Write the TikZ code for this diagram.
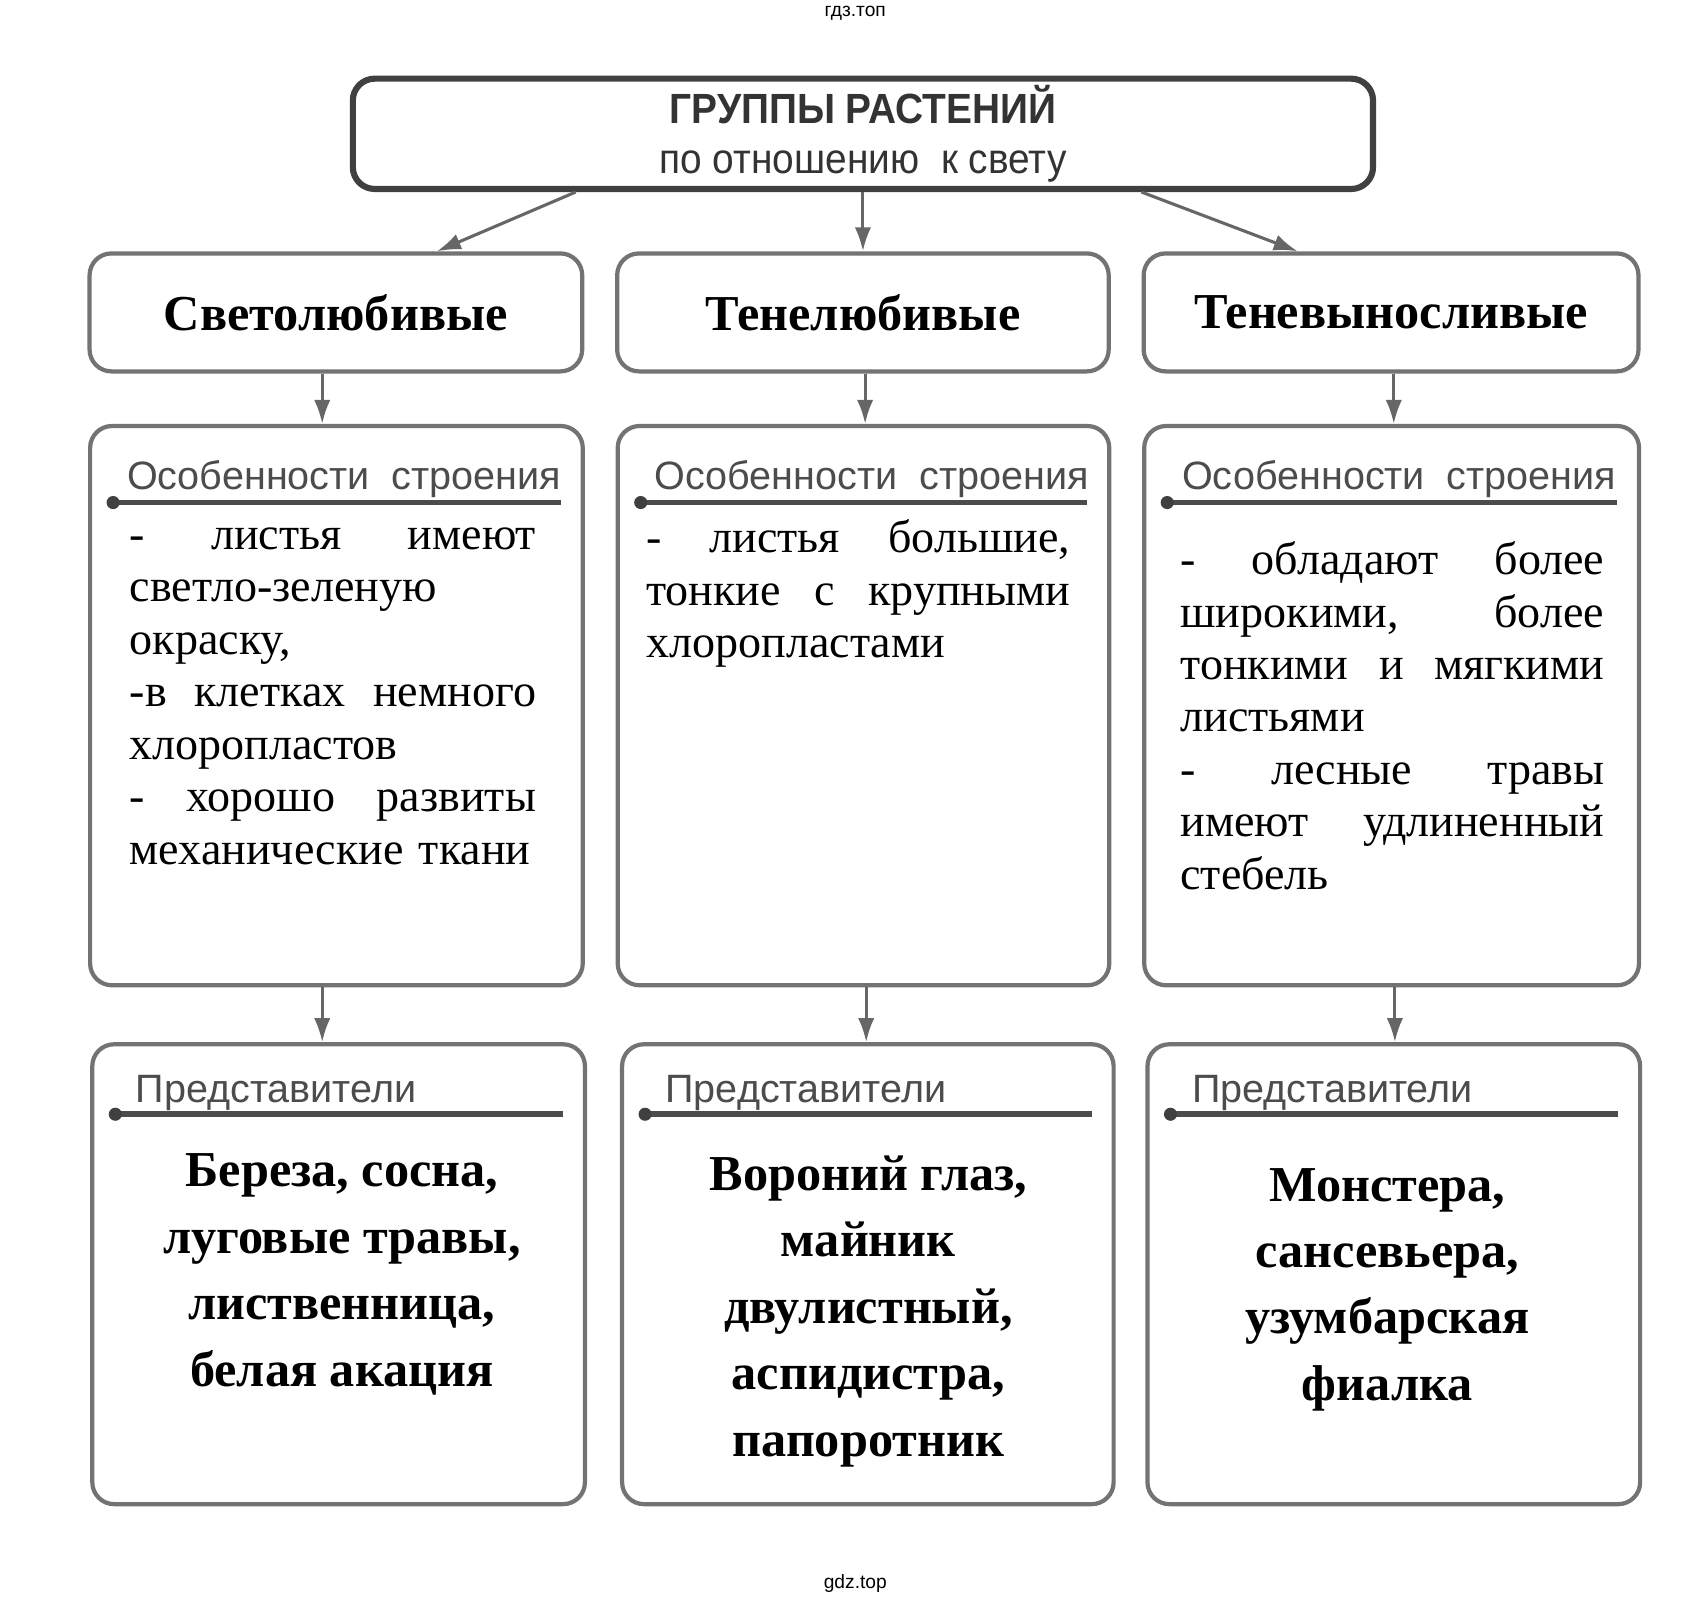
\documentclass[tikz,border=0pt]{standalone}
\usepackage{fontspec}
\setmainfont{Liberation Serif}
\setsansfont{Liberation Sans}
\usepackage{graphicx}
\usetikzlibrary{positioning,calc,arrows.meta}
\tikzset{>={Latex[length=2.2mm,width=1.5mm]}}
\newlength{\jw}
\tikzset{
  box/.style={draw=black!55, line width=1.1pt, rounded corners=0.2cm, fill=white},
  topbox/.style={box, draw=black!75, line width=1.6pt},
  arr/.style={->, draw=black!60, line width=0.8pt},
  hdr/.style={inner sep=0pt, anchor=base west, text=black!70,
    font=\sffamily\fontsize{10.3}{12}\selectfont},
  body/.style={inner sep=0pt, anchor=base west, align=left, text width=#1,
    execute at begin node={\setlength{\jw}{#1}},
    font=\fontsize{12}{13.66}\selectfont},
  names/.style={inner sep=0pt, anchor=base, align=center,
    font=\bfseries\fontsize{13.1}{17.3}\selectfont},
  grpname/.style={box, minimum height=1.08cm, font=\bfseries\fontsize{13.1}{16}\selectfont},
  sepln/.style={line width=1.5pt, draw=black!70},
}
\newcommand{\jl}[1]{\leavevmode\hbox to \jw{#1}}
\newcommand{\sepline}[2]{%
  \draw[sepln] ([xshift=0.23cm,yshift=#2]#1.north west) -- ([xshift=-0.22cm,yshift=#2]#1.north east);
  \fill[black!75] ([xshift=0.23cm,yshift=#2]#1.north west) circle(0.06);}

\begin{document}
\begin{tikzpicture}
\useasboundingbox (0,0) rectangle (15.6,-14.63);
\node[font=\sffamily\fontsize{5}{6}\selectfont] (wm1) at (7.83,-0.12) {гдз.топ};
\node[font=\sffamily\fontsize{5}{6}\selectfont] (wm2) at (7.83,-14.50) {gdz.top};

% top
\node[topbox, minimum width=9.34cm, minimum height=1.01cm, inner sep=1pt, align=center,
  text=black!80, font=\sffamily\fontsize{11}{12.8}\selectfont] (grp) at (7.90,-1.225)
  {\scalebox{0.92}[1]{\bfseries ГРУППЫ РАСТЕНИЙ}\\ \scalebox{0.92}[1]{по отношению\ \ к свету}};

% groups
\node[grpname, minimum width=4.51cm] (sv) at (3.075,-2.86) {Светолюбивые};
\node[grpname, minimum width=4.50cm] (ten) at (7.90,-2.86) {Тенелюбивые};
\node[grpname, minimum width=4.53cm] (tv) at (12.735,-2.86) {Теневыносливые};

% features
\node[box, minimum width=4.51cm, minimum height=5.12cm] (osv) at (3.08,-6.46) {};
\node[box, minimum width=4.50cm, minimum height=5.12cm] (oten) at (7.905,-6.46) {};
\node[box, minimum width=4.53cm, minimum height=5.12cm] (otv) at (12.74,-6.46) {};

% representatives
\node[box, minimum width=4.51cm, minimum height=4.21cm] (psv) at (3.10,-11.665) {};
\node[box, minimum width=4.50cm, minimum height=4.21cm] (pten) at (7.945,-11.665) {};
\node[box, minimum width=4.51cm, minimum height=4.21cm] (ptv) at (12.76,-11.665) {};

\draw[arr] ([xshift=-2.63cm]grp.south) -- ([xshift=0.925cm]sv.north);
\draw[arr] (grp.south) -- (ten.north);
\draw[arr] ([xshift=2.55cm]grp.south) -- ([xshift=-0.855cm]tv.north);
\draw[arr] ([xshift=-0.125cm]sv.south) -- ([xshift=-0.125cm]sv.south |- osv.north);
\draw[arr] ([xshift=0.02cm]ten.south) -- ([xshift=0.02cm]ten.south |- oten.north);
\draw[arr] ([xshift=0.025cm]tv.south) -- ([xshift=0.025cm]tv.south |- otv.north);
\draw[arr] ([xshift=-0.13cm]osv.south) -- ([xshift=-0.13cm]osv.south |- psv.north);
\draw[arr] ([xshift=0.025cm]oten.south) -- ([xshift=0.025cm]oten.south |- pten.north);
\draw[arr] ([xshift=0.03cm]otv.south) -- ([xshift=0.03cm]otv.south |- ptv.north);

% headers
\node[hdr] (hosv) at ([xshift=0.35cm,yshift=-0.60cm]osv.north west) {Особенности\ \ строения};
\node[hdr] (hoten) at ([xshift=0.35cm,yshift=-0.60cm]oten.north west) {Особенности\ \ строения};
\node[hdr] (hotv) at ([xshift=0.36cm,yshift=-0.60cm]otv.north west) {Особенности\ \ строения};
\sepline{osv}{-0.72cm}
\sepline{oten}{-0.72cm}
\sepline{otv}{-0.72cm}
\node[hdr] (hpsv) at ([xshift=0.41cm,yshift=-0.55cm]psv.north west) {Представители};
\node[hdr] (hpten) at ([xshift=0.41cm,yshift=-0.55cm]pten.north west) {Представители};
\node[hdr] (hptv) at ([xshift=0.42cm,yshift=-0.55cm]ptv.north west) {Представители};
\sepline{psv}{-0.66cm}
\sepline{pten}{-0.66cm}
\sepline{ptv}{-0.66cm}

% texts
\node[body=3.72cm] (txosv) at (1.18,-5.03) {%
  \jl{-\hfill листья\hfill имеют}\\ светло-зеленую\\ окраску,\\ \jl{-в\hfill клетках\hfill немного}\\
  хлоропластов\\ \jl{-\hfill хорошо\hfill развиты}\\ механические ткани};
\node[body=3.88cm] (txoten) at (5.91,-5.06) {%
  \jl{-\hfill листья\hfill большие,}\\ \jl{тонкие\hfill с\hfill крупными}\\ хлоропластами};
\node[body=3.88cm] (txotv) at (10.80,-5.26) {%
  \jl{-\hfill обладают\hfill более}\\ \jl{широкими,\hfill более}\\ \jl{тонкими\hfill и\hfill мягкими}\\ листьями\\
  \jl{-\hfill лесные\hfill травы}\\ \jl{имеют\hfill удлиненный}\\ стебель};

\node[names] (txpsv) at (3.13,-12.69) {Береза, сосна,\\ луговые травы,\\ лиственница,\\ белая акация};
\node[names] (txpten) at (7.95,-13.33) {Вороний глаз,\\ майник\\ двулистный,\\ аспидистра,\\ папоротник};
\node[names] (txptv) at (12.70,-12.82) {Монстера,\\ сансевьера,\\ узумбарская\\ фиалка};
\end{tikzpicture}
\end{document}
